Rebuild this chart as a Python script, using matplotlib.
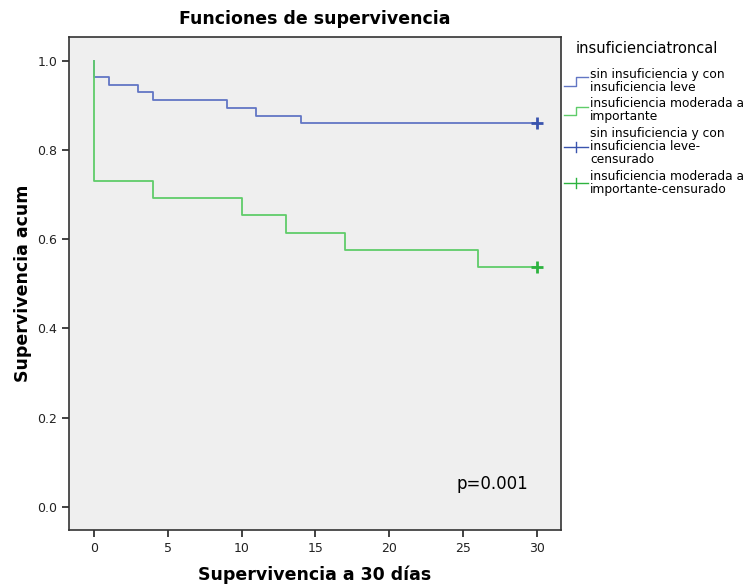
import matplotlib.pyplot as plt
import numpy as np
from matplotlib.legend_handler import HandlerBase
from matplotlib.lines import Line2D

# curvas de Kaplan-Meier
t_leve = [0, 0, 1, 3, 4, 9, 11, 14, 30]
s_leve = [1.0, 0.965, 0.947, 0.930, 0.912, 0.895, 0.877, 0.860, 0.860]
t_mod = [0, 0, 4, 10, 13, 17, 26, 30]
s_mod = [1.0, 0.731, 0.692, 0.654, 0.615, 0.577, 0.538, 0.538]
cens_t = [30, 30]
cens_s = [0.860, 0.538]

labels = ["sin insuficiencia y con\ninsuficiencia leve",
          "insuficiencia moderada a\nimportante",
          "sin insuficiencia y con\ninsuficiencia leve-\ncensurado",
          "insuficiencia moderada a\nimportante-censurado"]

blue = "#6276c4"
green = "#5fcc6a"
blue_c = "#3a54ae"
green_c = "#2db33f"


class StepHandler(HandlerBase):
    def create_artists(self, legend, orig, xd, yd, w, h, fontsize, trans):
        xs = [xd, xd + w * 0.5, xd + w * 0.5, xd + w]
        ys = [yd, yd, yd + h, yd + h]
        ln = Line2D(xs, ys, color=orig.get_color(), lw=1.0, transform=trans)
        return [ln]


class CrossHandler(HandlerBase):
    def create_artists(self, legend, orig, xd, yd, w, h, fontsize, trans):
        ln = Line2D([xd, xd + w], [yd + h / 2, yd + h / 2], color=orig.get_color(), lw=1.0, transform=trans)
        vl = Line2D([xd + w / 2, xd + w / 2], [yd - h * 0.1, yd + h * 1.1], color=orig.get_color(), lw=1.0, transform=trans)
        return [ln, vl]


fig = plt.figure(figsize=(7.46, 5.86), dpi=100)
ax = fig.add_axes([0.0925, 0.0956, 0.6595, 0.8421])
ax.set_facecolor("#efefef")

l1, = ax.step(t_leve, s_leve, where="post", color=blue, lw=1.3)
l2, = ax.step(t_mod, s_mod, where="post", color=green, lw=1.3)
c1, = ax.plot(cens_t[0], cens_s[0], marker="+", ms=8, mew=2, color=blue_c, ls="none")
c2, = ax.plot(cens_t[1], cens_s[1], marker="+", ms=8, mew=2, color=green_c, ls="none")

ax.set_xlim(-1.7, 31.64)
ax.set_ylim(-0.052, 1.055)
ax.set_xticks([0, 5, 10, 15, 20, 25, 30])
ax.set_yticks([0.0, 0.2, 0.4, 0.6, 0.8, 1.0])
ax.set_yticklabels(["0.0", "0.2", "0.4", "0.6", "0.8", "1.0"])
ax.tick_params(direction="out", length=5, width=1.2, labelsize=9, colors="#222222")
for sp in ax.spines.values():
    sp.set_color("#333333")
    sp.set_linewidth(1.2)

ax.set_title("Funciones de supervivencia", fontsize=12.5, fontweight="bold", pad=9)
ax.set_xlabel("Supervivencia a 30 días", fontsize=12.5, fontweight="bold", labelpad=8)
ax.set_ylabel("Supervivencia acum", fontsize=12.5, fontweight="bold", labelpad=4)
ax.text(27.0, 0.051, "p=0.001", fontsize=12, ha="center", va="center")

fig.text(0.771, 0.918, "insuficienciatroncal", fontsize=10.5, ha="left", va="center")
leg = fig.legend([l1, l2, c1, c2], labels, loc="upper left", bbox_to_anchor=(0.750, 0.893),
                 frameon=False, fontsize=8.8,
                 handlelength=1.9, handletextpad=0.2, labelspacing=0.3, borderaxespad=0,
                 handler_map={l1: StepHandler(), l2: StepHandler(), c1: CrossHandler(), c2: CrossHandler()})
for txt in leg.get_texts():
    txt.set_linespacing(1.0)

fig.savefig("out.png", dpi=100)
